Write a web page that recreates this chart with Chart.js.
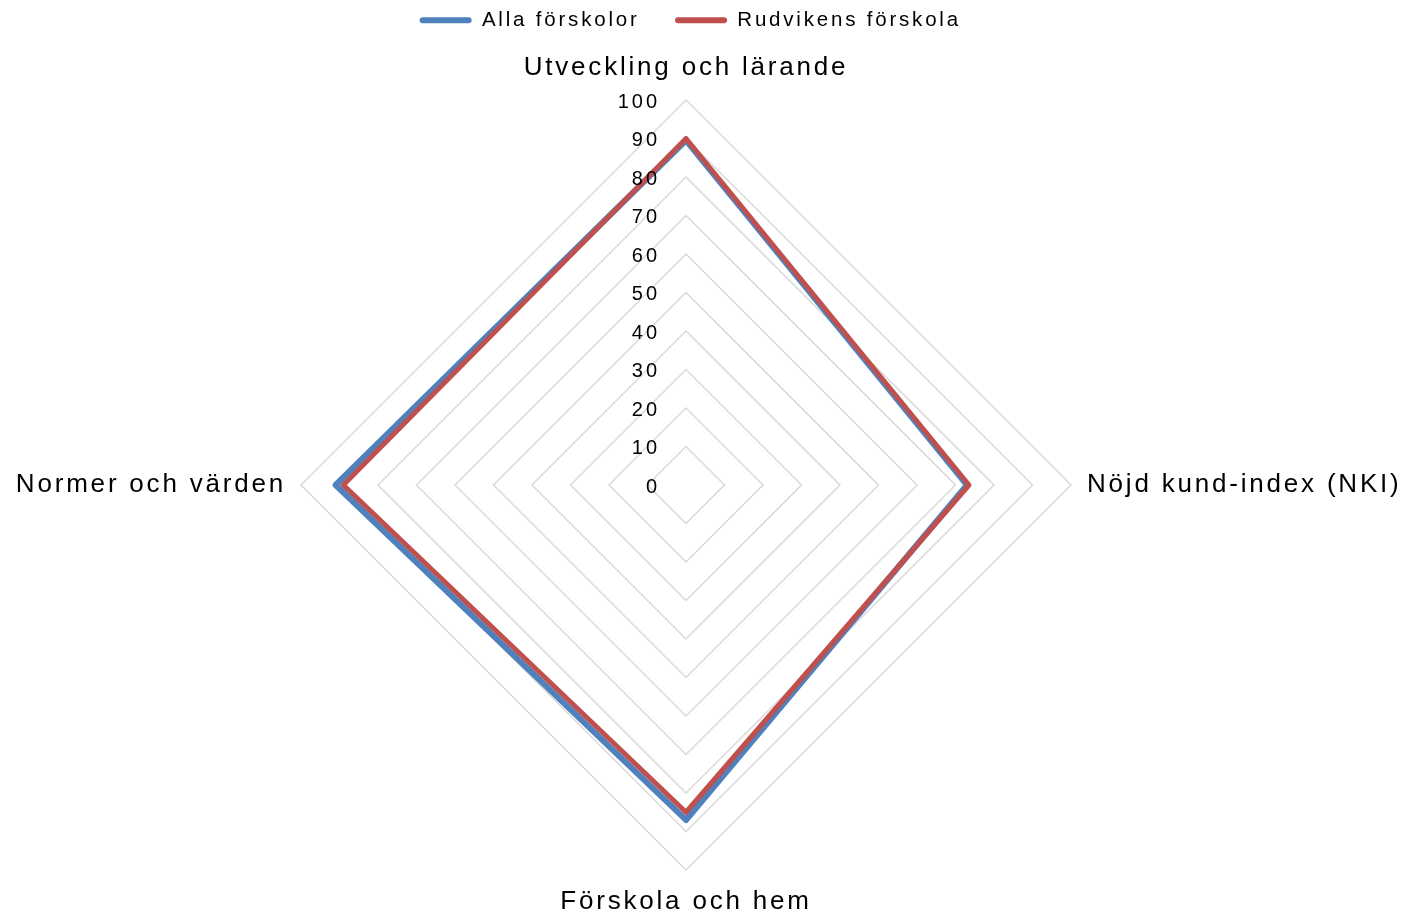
<!DOCTYPE html>
<html>
<head>
<meta charset="utf-8">
<script src="https://cdn.jsdelivr.net/npm/chart.js@4/dist/chart.umd.min.js"></script>
<style>
  html, body { margin: 0; padding: 0; background: #ffffff; }
  #wrap { width: 1406px; height: 915px; }
</style>
</head>
<body>
<div id="wrap"><canvas id="c" width="1406" height="915"></canvas></div>
<script>
const categories = ["Utveckling och lärande", "Nöjd kund-index (NKI)", "Förskola och hem", "Normer och värden"];
const allaForskolor = [89.5, 73, 87, 91];
const rudvikensForskola = [90, 73.5, 85, 89];
const seriesNames = ["Alla förskolor", "Rudvikens förskola"];
const seriesColors = ["#4F81BD", "#C0504D"];
const tickMin = 0, tickMax = 100, tickStep = 10;

const FONT = "'Liberation Sans', Arial, sans-serif";
const LS = '2.8px';

const letterSpacingPlugin = {
  id: 'letterSpacing',
  beforeUpdate(chart) { chart.ctx.letterSpacing = LS; },
  beforeDraw(chart) { chart.ctx.letterSpacing = LS; }
};

// invisible layout box that keeps a gap between the legend and the radar
const spacerPlugin = {
  id: 'spacer',
  beforeInit(chart) {
    Chart.layouts.addBox(chart, {
      position: 'top', weight: 0, fullSize: true, options: {},
      top: 0, left: 0, right: 0, bottom: 0, width: 0, height: 0,
      isHorizontal() { return true; },
      getPadding() { return {top: 0, left: 0, right: 0, bottom: 0}; },
      update(maxWidth) { this.width = maxWidth; this.height = 14.5; },
      draw() {}
    });
  }
};

const tickLabelPlugin = {
  id: 'tickLabels',
  afterDatasetsDraw(chart) {
    const scale = chart.scales.r;
    const ctx = chart.ctx;
    ctx.save();
    ctx.letterSpacing = '3px';
    ctx.font = '20px ' + FONT;
    ctx.fillStyle = '#000000';
    ctx.textAlign = 'right';
    ctx.textBaseline = 'middle';
    scale.ticks.forEach(t => {
      const d = scale.getDistanceFromCenterForValue(t.value);
      ctx.fillText(String(t.value), scale.xCenter - 26, scale.yCenter - d + 2);
    });
    ctx.restore();
  }
};

new Chart(document.getElementById('c'), {
  type: 'radar',
  data: {
    labels: categories,
    datasets: [
      {
        label: seriesNames[0],
        data: allaForskolor,
        borderColor: seriesColors[0],
        backgroundColor: seriesColors[0],
        borderWidth: 6,
        pointRadius: 0,
        fill: false,
        borderJoinStyle: 'round',
        order: 1
      },
      {
        label: seriesNames[1],
        data: rudvikensForskola,
        borderColor: seriesColors[1],
        backgroundColor: seriesColors[1],
        borderWidth: 5,
        pointRadius: 0,
        fill: false,
        borderJoinStyle: 'round',
        order: 0
      }
    ]
  },
  options: {
    responsive: false,
    animation: false,
    devicePixelRatio: 1,
    layout: { padding: 0 },
    plugins: {
      tooltip: { enabled: false },
      legend: {
        position: 'top',
        labels: {
          font: { family: FONT, size: 20.5 },
          color: '#000000',
          boxWidth: 52,
          boxHeight: 6,
          padding: 10,
          useBorderRadius: true,
          borderRadius: 3,
          generateLabels(chart) {
            const pads = ['   ', '   '];
            return chart.data.datasets.map((ds, i) => ({
              text: ds.label + pads[i],
              fillStyle: ds.borderColor,
              strokeStyle: ds.borderColor,
              lineWidth: 0,
              hidden: false,
              datasetIndex: i,
              borderRadius: 3,
              fontColor: '#000000'
            }));
          }
        }
      }
    },
    scales: {
      r: {
        min: tickMin,
        max: tickMax,
        ticks: { stepSize: tickStep, display: false },
        grid: { color: '#D9D9D9', lineWidth: 1.5 },
        angleLines: { display: false },
        pointLabels: {
          font: { family: FONT, size: 26, lineHeight: 1 },
          color: '#000000',
          padding: (ctx) => [19, 16, 19, 15][ctx.index]
        },
        afterSetDimensions(scale) {
          // let the side labels use a little more horizontal room, as in the original
          scale.left -= 13;
          scale.right += 21;
          scale.width = scale.right - scale.left;
          scale.xCenter = Math.floor(scale.left + scale.width / 2);
        }
      }
    }
  },
  plugins: [letterSpacingPlugin, spacerPlugin, tickLabelPlugin]
});
</script>
</body>
</html>
